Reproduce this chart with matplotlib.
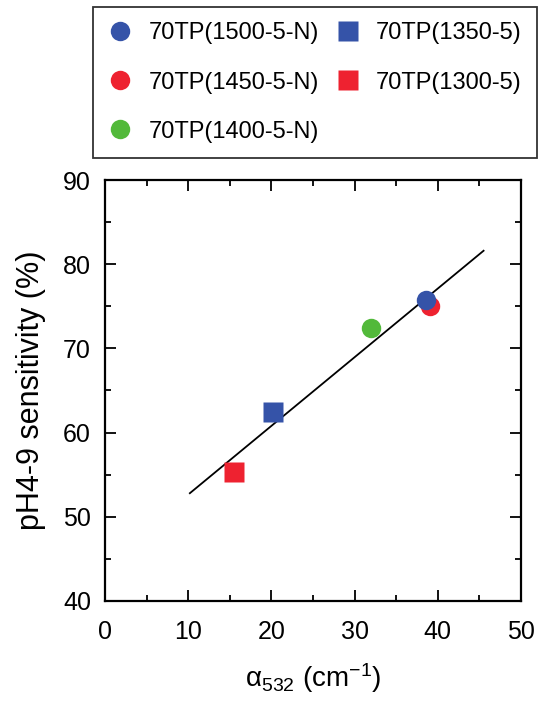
import numpy as np
import matplotlib.pyplot as plt

plt.rcParams['font.family'] = ['Liberation Sans', 'DejaVu Sans']
plt.rcParams['mathtext.fontset'] = 'custom'
plt.rcParams['mathtext.rm'] = 'Liberation Sans'
plt.rcParams['mathtext.it'] = 'Liberation Sans'

# data
labels = ['70TP(1500-5-N)', '70TP(1450-5-N)', '70TP(1400-5-N)', '70TP(1350-5)', '70TP(1300-5)']
alpha = [38.6, 39.1, 32.0, 20.2, 15.5]
sens = [75.8, 75.0, 72.4, 62.4, 55.3]
markers = ['o', 'o', 'o', 's', 's']
colors = ['#3553a8', '#ee2230', '#52b93a', '#3553a8', '#ee2230']

fit_x = [10.2, 45.5]
fit_y = [52.8, 81.6]

fig = plt.figure(figsize=(5.42, 7.01), dpi=100)
ax = fig.add_axes([0.1937, 0.1427, 0.7676, 0.6005])

ax.plot(fit_x, fit_y, color='black', lw=1.3, zorder=1)
# red circle drawn before blue circle so the blue sits on top
order = [1, 0, 2, 3, 4]
hd = {}
for i in order:
    h, = ax.plot(alpha[i], sens[i], marker=markers[i], color=colors[i], ms=14,
                 ls='none', mec='none', label=labels[i], zorder=3)
    hd[i] = h

ax.set_xlim(0, 50)
ax.set_ylim(40, 90)
ax.set_xticks(np.arange(0, 51, 10))
ax.set_yticks(np.arange(40, 91, 10))
ax.set_xticks(np.arange(5, 50, 10), minor=True)
ax.set_yticks(np.arange(45, 90, 10), minor=True)
ax.tick_params(which='both', direction='in', top=True, right=True, width=1.3,
               labelsize=18)
ax.tick_params(axis='y', pad=10)
ax.tick_params(axis='x', pad=14)
ax.tick_params(which='major', length=8)
ax.tick_params(which='minor', length=4)
for s in ax.spines.values():
    s.set_linewidth(1.6)

ax.set_xlabel(r'$\mathrm{\alpha_{532}}$ (cm$^{\mathrm{-1}}$)', fontsize=20, labelpad=12)
ax.set_ylabel('pH4-9 sensitivity (%)', fontsize=22, labelpad=12)

leg_handles = [hd[0], hd[1], hd[2], hd[3], hd[4]]
leg = fig.legend(leg_handles, labels, loc='upper left', ncol=2,
                 bbox_to_anchor=(93 / 542, 1 - 155 / 701, 444 / 542, 148 / 701),
                 mode='expand', fontsize=17, frameon=True, fancybox=False,
                 edgecolor='black', handletextpad=0.7, columnspacing=0.6,
                 labelspacing=1.15, borderpad=0.65, handlelength=1.0,
                 borderaxespad=0)
leg.get_frame().set_linewidth(1.3)

fig.savefig('out.png', dpi=100)
